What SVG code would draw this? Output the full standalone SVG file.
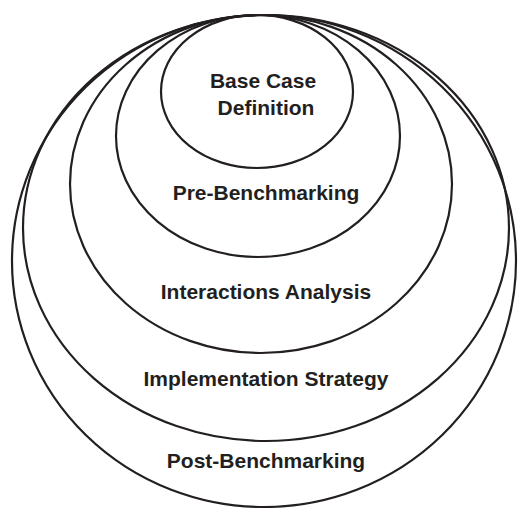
<svg xmlns="http://www.w3.org/2000/svg" width="518" height="508" viewBox="0 0 518 508">
<style>
.e{fill:none;stroke:#231f20;stroke-width:2.2}
.t{font-family:"Liberation Sans",Arial,sans-serif;font-weight:bold;font-size:21px;fill:#231f20;text-anchor:middle}
</style>
<rect width="518" height="508" fill="#fff"/>
<g id="post"><ellipse class="e" cx="264" cy="261" rx="252" ry="246"/><text class="t" x="266" y="468">Post-Benchmarking</text></g>
<g id="impl"><ellipse class="e" cx="266" cy="228" rx="243" ry="213"/><text class="t" x="266" y="386">Implementation Strategy</text></g>
<g id="inter"><ellipse class="e" cx="261" cy="184" rx="191" ry="169"/><text class="t" x="266" y="299">Interactions Analysis</text></g>
<g id="pre"><ellipse class="e" cx="258" cy="136" rx="142" ry="121"/><text class="t" x="266" y="200">Pre-Benchmarking</text></g>
<g id="base"><ellipse class="e" cx="257" cy="91.5" rx="96" ry="76.5"/><text class="t" x="263" y="88">Base Case</text><text class="t" x="266" y="115">Definition</text></g>
</svg>
